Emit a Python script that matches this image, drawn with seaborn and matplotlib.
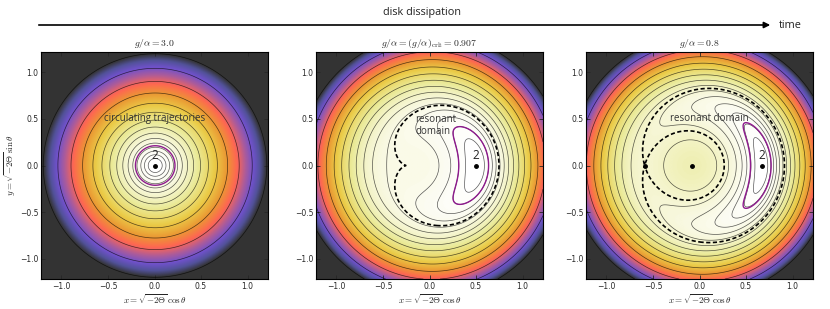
import numpy as np
import matplotlib
matplotlib.use("Agg")
import matplotlib.pyplot as plt
from matplotlib.patches import FancyArrowPatch
import seaborn as sns

# values
g_over_alpha = [3.0, 0.907, 0.8]
titles = [r"$g/\alpha=3.0$",
          r"$g/\alpha=(g/\alpha)_{\rm crit}=0.907$",
          r"$g/\alpha=0.8$"]
coupling = 0.0309                 # strength of the cos(theta) term
disk_edge = [1.2, 1.414, 1.414]   # radius where the colour scale runs out
purple_x = [0.22, 0.635, 0.77]    # where the purple trajectory crosses y = 0
domain_text = ["circulating trajectories", "resonant\ndomain", "resonant domain"]
tick_values = [-1.0, -0.5, 0.0, 0.5, 1.0]

sns.set_style("ticks", {"xtick.direction": "in", "ytick.direction": "in"})
plt.rcParams["font.family"] = ["DejaVu Sans"]
plt.rcParams["mathtext.fontset"] = "cm"
plt.rcParams["contour.negative_linestyle"] = "solid"
cmap = sns.color_palette("CMRmap_r", as_cmap=True)

lim = 1.22
grid = np.linspace(-lim, lim, 600)
X, Y = np.meshgrid(grid, grid)


def hamiltonian(x, y, ga):
    # x = sqrt(-2 Theta) cos(theta), y = sqrt(-2 Theta) sin(theta)
    r2 = x**2 + y**2
    return (ga - 1.0) * r2 + r2**2 / 4.0 - coupling * x


fig = plt.figure(figsize=(8.3, 3.09), dpi=100)
lefts = [41 / 830, 316 / 830, 586 / 830]

for i, ga in enumerate(g_over_alpha):
    ax = fig.add_axes([lefts[i], 1 - 279 / 309, 227 / 830, 227 / 309])
    H = hamiltonian(X, Y, ga)
    hmin = H.min()
    R = disk_edge[i]
    hmax = (ga - 1.0) * R**2 + R**4 / 4.0

    ax.imshow(H, extent=[-lim, lim, -lim, lim], origin="lower", cmap=cmap,
              vmin=hmin, vmax=hmax, alpha=0.8, aspect="auto",
              interpolation="bilinear")

    # contour levels crowd towards the stable point
    span = hmax - hmin
    eps = 0.009 * span
    levels = [hmin + eps * (1.37**k - 1) for k in range(1, 30)]
    levels = [lv for lv in levels if lv < hmin + 1.05 * span]
    ax.contour(X, Y, H, levels=levels, colors="k", linewidths=0.5,
               alpha=0.65, linestyles="solid")

    # fixed points on the x axis: x^3 + 2(g/a-1) x - c = 0
    D = 2.0 * (ga - 1.0)
    roots = np.roots([1.0, 0.0, D, -coupling])
    real = np.sort(roots[np.abs(roots.imag) < 1e-6].real)

    # separatrix through the hyperbolic point (or the cusp at the bifurcation)
    if len(real) == 3:
        xs = real[0]
    elif D < 0:
        xs = -np.sqrt(-D / 3.0)
    else:
        xs = None
    if xs is not None:
        ax.contour(X, Y, H, levels=[hamiltonian(xs, 0.0, ga)], colors="k",
                   linewidths=1.2, linestyles=[(0, (2.5, 1.5))])

    ax.contour(X, Y, H, levels=[hamiltonian(purple_x[i], 0.0, ga)],
               colors="#8e1a8e", linewidths=1.0, linestyles="solid")

    ax.plot(real, np.zeros_like(real), "o", color="k", markersize=2.5)
    x2 = real[-1]
    ax.text(x2, 0.04, "2", ha="center", va="bottom", fontsize=8.5,
            family="Open Sans", color="#222222")

    if i == 0:
        ax.text(0.0, 0.5, domain_text[i], ha="center", va="center",
                fontsize=7, family="Open Sans", color="#333333")
    elif i == 1:
        ax.text(-0.15, 0.43, domain_text[i], ha="left", va="center",
                fontsize=7, family="Open Sans", color="#333333",
                linespacing=1.2)
    else:
        ax.text(0.11, 0.5, domain_text[i], ha="center", va="center",
                fontsize=7, family="Open Sans", color="#333333")

    ax.set_xlim(-lim, lim)
    ax.set_ylim(-lim, lim)
    ax.set_xticks(tick_values)
    ax.set_yticks(tick_values)
    ax.tick_params(labelsize=5.5, length=3, width=0.6, top=True, right=True,
                   pad=2)
    for sp in ax.spines.values():
        sp.set_linewidth(0.8)
        sp.set_color("k")
    ax.set_title(titles[i], fontsize=7, pad=4)
    ax.set_xlabel(r"$x=\sqrt{-2\Theta}\,\cos\theta$", fontsize=6.5, labelpad=1)
    if i == 0:
        ax.set_ylabel(r"$y=\sqrt{-2\Theta}\,\sin\theta$", fontsize=6.5,
                      labelpad=1)

# arrow of time across the top
arrow = FancyArrowPatch((36 / 830, 1 - 25 / 309), (773 / 830, 1 - 25 / 309),
                        transform=fig.transFigure, arrowstyle="-|>",
                        mutation_scale=9, lw=1.2, color="k")
fig.add_artist(arrow)
fig.text(422 / 830, 1 - 13 / 309, "disk dissipation", ha="center",
         va="center", fontsize=7.8, family="Open Sans", color="#222222")
fig.text(779 / 830, 1 - 26 / 309, "time", ha="left", va="center",
         fontsize=7.8, family="Open Sans", color="#222222")

fig.savefig("out.png", dpi=100)
